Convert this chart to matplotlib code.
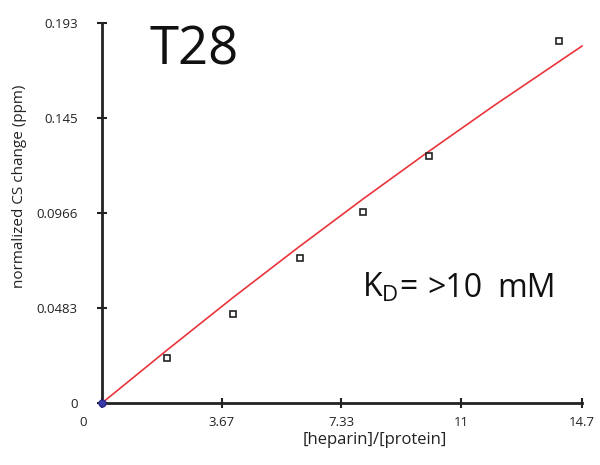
import matplotlib
matplotlib.use("Agg")
import matplotlib.pyplot as plt
import matplotlib.transforms as mtransforms

plt.rcParams['font.family'] = ['Open Sans', 'DejaVu Sans']

# data
conc_ratio = [0, 2.0, 4.0, 6.05, 8.0, 10.0, 14.0]
cs_change = [0.0, 0.0229, 0.0452, 0.0736, 0.0970, 0.1254, 0.1838]

fit_x = [0, 2, 4, 6, 8, 10, 12, 14.7]
fit_y = [0.0, 0.0270, 0.0534, 0.0789, 0.1037, 0.1277, 0.1510, 0.1813]

xticks = [0, 3.67, 7.33, 11, 14.7]
xtick_labels = ["0", "3.67", "7.33", "11", "14.7"]
yticks = [0, 0.0483, 0.0966, 0.145, 0.193]
ytick_labels = ["0", "0.0483", "0.0966", "0.145", "0.193"]

fig = plt.figure(figsize=(6.0, 4.65), dpi=100)
ax = fig.add_axes([0.17, 0.1333, 0.80, 0.8172])

ax.plot(fit_x, fit_y, color='#e8353b', lw=1.2, zorder=2, clip_on=False)
ax.plot(conc_ratio[1:], cs_change[1:], linestyle='none', marker='s', ms=5,
        mfc='white', mec='#222222', mew=1.2, zorder=3, clip_on=False)
ax.plot(conc_ratio[:1], cs_change[:1], linestyle='none', marker='o', ms=5,
        mfc='#3a3aa8', mec='#2a2a90', zorder=4, clip_on=False)

ax.set_xlim(0, 14.7)
ax.set_ylim(0, 0.193)

for s in ['top', 'right']:
    ax.spines[s].set_visible(False)
for s in ['left', 'bottom']:
    ax.spines[s].set_linewidth(2.0)
    ax.spines[s].set_color('#222222')

ax.set_xticks(xticks)
ax.set_xticklabels(xtick_labels)
ax.set_yticks(yticks)
ax.set_yticklabels(ytick_labels)
ax.tick_params(axis='both', direction='inout', length=7, width=1.5,
               color='#222222', labelsize=9.5, labelcolor='#222222')
ax.tick_params(axis='x', pad=6)
ax.tick_params(axis='y', pad=14)

# shift x tick label "0" leftwards as in the reference
lbl0 = ax.get_xticklabels()[0]
lbl0.set_transform(lbl0.get_transform() +
                   mtransforms.ScaledTranslation(-19/100, 0, fig.dpi_scale_trans))

ax.set_xlabel("[heparin]/[protein]", fontsize=12, color='#222222')
ax.xaxis.set_label_coords(0.569, -0.077)
ax.set_ylabel("normalized CS change (ppm)", fontsize=11, color='#222222')
ax.yaxis.set_label_coords(-0.157, 0.57)

ax.text(0.10, 0.928, "T28", transform=ax.transAxes, fontsize=38,
        ha='left', va='center', color='#111111')
kd_kw = dict(transform=ax.transAxes, fontsize=23, va='baseline',
             ha='left', color='#111111')
ax.text(0.5417, 0.279, r"K$_\mathregular{D}$=", **kd_kw)
ax.text(0.677, 0.279, ">10", **kd_kw)
ax.text(0.823, 0.279, "mM", **kd_kw)

fig.savefig("out.png", dpi=100)
